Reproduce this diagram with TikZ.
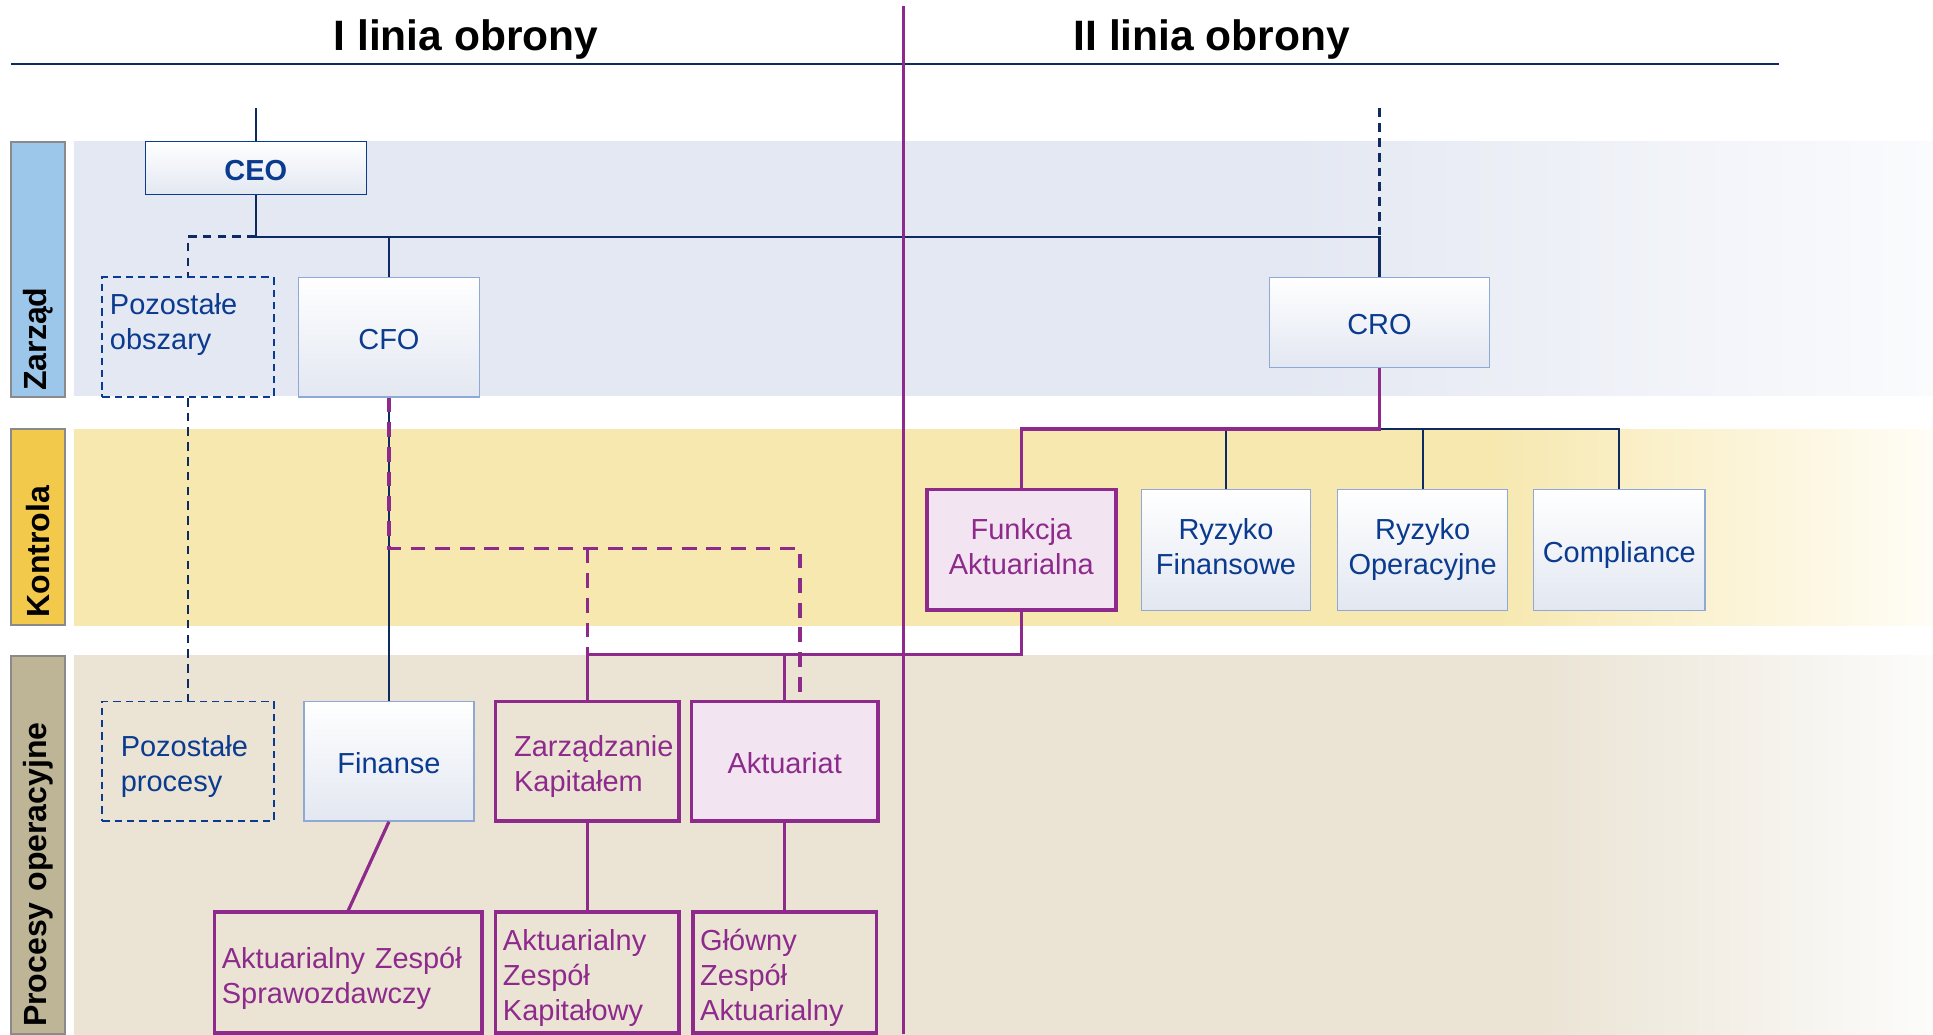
\documentclass[tikz,border=0pt]{standalone}
\usepackage{fontspec}
\setmainfont{Liberation Sans}
\usetikzlibrary{calc}

\definecolor{navyline}{HTML}{0E2A63}
\definecolor{navytext}{HTML}{0B3B8F}
\definecolor{purp}{HTML}{8E2A8C}
\definecolor{pinkfill}{HTML}{F2E4F0}
\definecolor{boxedge}{HTML}{8FA9D6}
\definecolor{boxlow}{HTML}{E2E7F1}
\definecolor{bandZ}{HTML}{E4E8F2}
\definecolor{bandZend}{HTML}{FAFBFD}
\definecolor{bandK}{HTML}{F7E8B0}
\definecolor{bandKend}{HTML}{FFFDF6}
\definecolor{bandP}{HTML}{EBE4D5}
\definecolor{bandPend}{HTML}{FCFCFB}
\definecolor{labZ}{HTML}{9DC7EA}
\definecolor{labK}{HTML}{F2C94A}
\definecolor{labP}{HTML}{BDB596}
\definecolor{labedge}{HTML}{8A8A8A}

% lane backgrounds: flat colour, then a fade to near-white at the right end
% (the middle 25bp--75bp of a shading is what covers the filled path)
\pgfdeclarehorizontalshading{fadeZ}{100bp}{color(0bp)=(bandZ); color(57.8bp)=(bandZ); color(75bp)=(bandZend); color(100bp)=(bandZend)}
\pgfdeclarehorizontalshading{fadeK}{100bp}{color(0bp)=(bandK); color(63.2bp)=(bandK); color(75bp)=(bandKend); color(100bp)=(bandKend)}
\pgfdeclarehorizontalshading{fadeP}{100bp}{color(0bp)=(bandP); color(64.5bp)=(bandP); color(75bp)=(bandPend); color(100bp)=(bandPend)}

\newcommand\orgfont{\fontsize{23.5}{28.5}\selectfont}
\newcommand\headfont{\fontsize{34.5}{40}\selectfont\bfseries}
\newcommand\lanefont{\fontsize{26}{30}\selectfont\bfseries}

\begin{document}
\begin{tikzpicture}[x=1pt,y=-1pt,
  navyln/.style={draw=navyline, line width=1.8},
  navyds/.style={draw=navyline, line width=2, dash pattern=on 7 off 5},
  purpln/.style={draw=purp, line width=2.6},
  purpds/.style={draw=purp, line width=3, dash pattern=on 12 off 8},
  lines/.style={execute at begin node={\rule{0pt}{#1}},
    execute at end node={\rule[-5pt]{0pt}{5pt}}},
  lines/.default=25pt,
  bx/.style={rectangle, draw=boxedge, line width=1, top color=white,
    bottom color=boxlow, text=navytext, font=\orgfont, inner sep=0, align=center, lines},
  pbx/.style={rectangle, draw=purp, line width=3, text=purp, font=\orgfont, inner sep=0, lines},
  dbx/.style={rectangle, draw=navytext, line width=1.5, dash pattern=on 6 off 4,
    text=navytext, font=\orgfont, inner sep=0, lines},
  lane/.style={rectangle, draw=labedge, line width=1.5, rotate=90, font=\lanefont,
    minimum height=44, inner sep=0, align=left},
  head/.style={font=\headfont, text=black, inner sep=0}
]
\useasboundingbox (0,0) rectangle (1568,839);

% swim-lane backgrounds
\shade[shading=fadeZ] (60,115) rectangle (1568,321);
\shade[shading=fadeK] (60,348) rectangle (1568,507);
\shade[shading=fadeP] (60,532) rectangle (1568,839);

% lane labels
\node[lane, fill=labZ, minimum width=207, text width=197] (lzar) at (31,218.5) {Zarząd};
\node[lane, fill=labK, minimum width=159, text width=147] (lkon) at (31,427.5) {Kontrola};
\node[lane, fill=labP, minimum width=307, text width=295] (lproc) at (31,685.5) {Procesy operacyjne};

% column headings
\node[head] (h1) at (378,32) {I linia obrony};
\node[head] (h2) at (983,32) {II linia obrony};
\coordinate (hl) at (9,52);
\coordinate (hr) at (1443,52);
\draw[navyline, line width=2.2] (hl) -- (hr);

% management level
\node[bx, font=\orgfont\bfseries, draw=navytext, minimum width=179, minimum height=43] (ceo) at (207.5,136.5) {CEO};
\node[dbx, minimum width=139, minimum height=97] (pobs) at (152.5,273.5) {};
\node[text=navytext, font=\orgfont, align=left, anchor=west, inner sep=0] (pobs-t) at (89,263) {Pozostałe\\obszary};
\node[bx, minimum width=147, minimum height=97] (cfo) at (315.5,273.5) {CFO};
\node[bx, minimum width=178, minimum height=73] (cro) at (1119,261.5) {CRO};

% control level
\node[pbx, fill=pinkfill, align=center, minimum width=153, minimum height=98] (fa) at (828.5,446) {Funkcja\\Aktuarialna};
\node[bx, minimum width=137, minimum height=98] (rf) at (994.5,446) {Ryzyko\\Finansowe};
\node[bx, minimum width=138, minimum height=98] (ro) at (1154,446) {Ryzyko\\Operacyjne};
\node[bx, minimum width=139, minimum height=98] (comp) at (1313.5,446) {Compliance};

% operational level
\node[dbx, align=left, text width=109, minimum width=139, minimum height=97] (pproc) at (152.5,617.5) {Pozostałe\\procesy};
\node[bx, minimum width=138, minimum height=97] (fin) at (315.5,617.5) {Finanse};
\node[pbx, align=left, text width=119, minimum width=149, minimum height=97] (zk) at (476.5,617.5) {Zarządzanie\\Kapitałem};
\node[pbx, fill=pinkfill, align=center, minimum width=151, minimum height=97] (akt) at (636.5,617.5) {Aktuariat};
\node[pbx, lines=26pt, align=left, text width=205, minimum width=217, minimum height=98] (azs) at (282.5,789) {Aktuarialny Zespół\\Sprawozdawczy};
\node[pbx, lines=26pt, align=left, text width=137, minimum width=149, minimum height=98] (azk) at (476.5,789) {Aktuarialny\\Zespół\\Kapitałowy};
\node[pbx, lines=26pt, align=left, text width=137, minimum width=149, minimum height=98] (gza) at (636.5,789) {Główny\\Zespół\\Aktuarialny};

% reporting lines from the CEO
\coordinate (ceotop) at (207.5,88);
\coordinate (j1) at (207.5,192);
\coordinate (crotop) at (1119,88);
\draw[navyln] (ceotop) -- (ceo.north);
\draw[navyds] (j1) -| (pobs.north);
\draw[navyln] (ceo.south) -- (j1) -| (cro.north);
\draw[navyln] (j1) -| (cfo.north);
\draw[navyds] (crotop) -- (cro.north |- j1);

% first line of defence
\draw[navyds] (pobs.south) -- (pproc.north);
\draw[navyln, line width=1.5] (cfo.south) -- (fin.north);
\coordinate (pd) at (315.5,445);
\draw[purpds] (cfo.south) -- (cfo.south |- pd) -| ($(akt.north)+(12.5,0)$);
\coordinate (fb) at (828.5,531);
\draw[purpds] (zk.north |- pd) -- (zk.north |- fb);
\draw[purpln] (fa.south) -- (fa.south |- fb) -| (zk.north);
\draw[purpln] (akt.north |- fb) -- (akt.north);
\draw[purpln] (fin.south) -- (azs.north);
\draw[purpln] (zk.south) -- (azk.north);
\draw[purpln] (akt.south) -- (gza.north);

% second line of defence
\coordinate (cb) at (1119,348);
\draw[navyln] (rf.north) -- (rf.north |- cb) -| (comp.north);
\draw[navyln] (ro.north) -- (ro.north |- cb);
\draw[purpln] (cro.south) -- (cro.south |- cb) -| (fa.north);

% divider between the two lines of defence
\coordinate (dtop) at (733,5);
\coordinate (dbot) at (733,839);
\draw[purp, line width=2.8] (dtop) -- (dbot);
\end{tikzpicture}
\end{document}
